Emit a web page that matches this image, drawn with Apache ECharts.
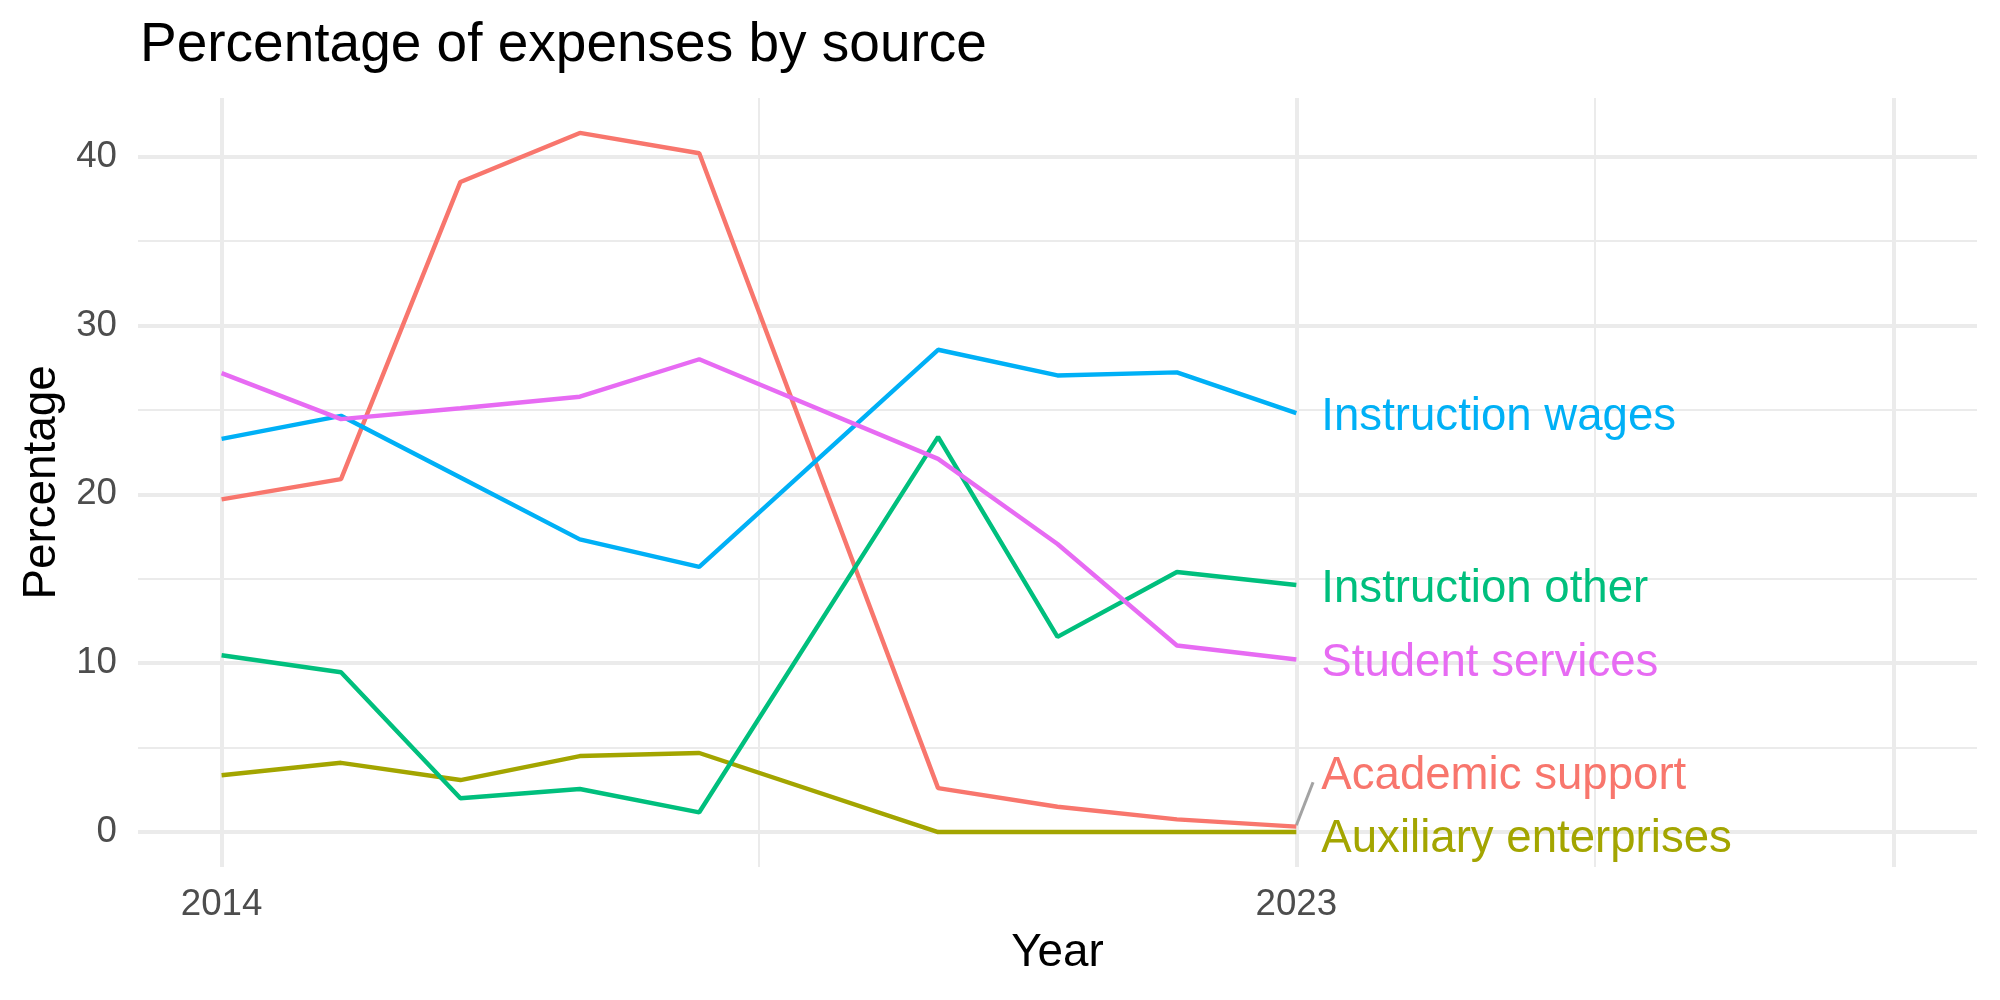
<!DOCTYPE html>
<html>
<head>
<meta charset="utf-8">
<script src="https://cdn.jsdelivr.net/npm/echarts@6/dist/echarts.min.js"></script>
<style>
  html, body { margin: 0; padding: 0; background: #fff; }
  #chart { width: 2000px; height: 1000px; }
</style>
</head>
<body>
<div id="chart"></div>
<script>
// values (no 2019 point in the source data)
const years = [2014, 2015, 2016, 2017, 2018, 2020, 2021, 2022, 2023];
const academicSupport = [19.7, 20.9, 38.5, 41.4, 40.2, 2.6, 1.5, 0.75, 0.32];
const auxiliaryEnterprises = [3.36, 4.1, 3.08, 4.5, 4.68, 0, 0, 0, 0];
const instructionOther = [10.47, 9.46, 2.0, 2.55, 1.17, 23.4, 11.56, 15.4, 14.63];
const instructionWages = [23.28, 24.65, 21.0, 17.33, 15.7, 28.56, 27.04, 27.22, 24.81];
const studentServices = [27.18, 24.45, 25.1, 25.78, 28.0, 22.1, 17.06, 11.05, 10.22];

const seriesNames = ["Academic support", "Auxiliary enterprises", "Instruction other", "Instruction wages", "Student services"];
const seriesValues = [academicSupport, auxiliaryEnterprises, instructionOther, instructionWages, studentServices];
const seriesColors = ["#F8766D", "#A3A500", "#00BF7D", "#00B0F6", "#E76BF3"];
// label nudges (px) where ggrepel moved the text away from the line end
const labelOffsets = [[0, -50], [0, 7], [0, 4], [0, 4], [0, 4]];

const xTicks = [2014, 2023];
const yTicks = [0, 10, 20, 30, 40];
const xMajorGrid = [2014, 2023, 2028];
const xMinorGrid = [2018.5, 2025.5];
const yMinorGrid = [5, 15, 25, 35];

const font = "'Liberation Sans', Arial, Helvetica, sans-serif";
const gridColor = "#EBEBEB";

const chart = echarts.init(document.getElementById("chart"));

const gridLines = [];
yTicks.forEach((v) => gridLines.push({ yAxis: v, lineStyle: { width: 4 } }));
yMinorGrid.forEach((v) => gridLines.push({ yAxis: v, lineStyle: { width: 2 } }));
xMajorGrid.forEach((v) => gridLines.push({ xAxis: v, lineStyle: { width: 4 } }));
xMinorGrid.forEach((v) => gridLines.push({ xAxis: v, lineStyle: { width: 2 } }));

const lineSeries = seriesNames.map((name, i) => ({
  name: name,
  type: "line",
  z: 3,
  data: years.map((y, j) => [y, seriesValues[i][j]]),
  showSymbol: false,
  symbol: "none",
  lineStyle: { color: seriesColors[i], width: 4.4 },
  itemStyle: { color: seriesColors[i] },
  endLabel: {
    show: true,
    formatter: name,
    color: seriesColors[i],
    fontSize: 45.6,
    fontFamily: font,
    distance: 25,
    offset: labelOffsets[i],
  },
}));

// the repel segment of "Academic support"
lineSeries[0].markLine = {
  silent: true,
  z: 2,
  symbol: "none",
  animation: false,
  label: { show: false },
  lineStyle: { color: "#A3A3A3", width: 3, type: "solid" },
  data: [[{ coord: [2023, 0.4] }, { coord: [2023.14, 2.95] }]],
};

const option = {
  animation: false,
  backgroundColor: "#fff",
  title: {
    text: "Percentage of expenses by source",
    left: 135,
    top: 13,
    textStyle: { fontSize: 55, fontWeight: "normal", color: "#000", fontFamily: font },
  },
  grid: { left: 138, right: 23, top: 98, bottom: 133, containLabel: false },
  xAxis: {
    type: "value",
    min: 2013.3,
    max: 2028.7,
    axisLine: { show: false },
    axisTick: { show: false },
    splitLine: { show: false },
    axisLabel: {
      customValues: xTicks,
      formatter: (v) => String(v),
      fontSize: 36.7,
      color: "#4D4D4D",
      fontFamily: font,
      margin: 19,
    },
    name: "Year",
    nameLocation: "middle",
    nameGap: 63,
    nameTextStyle: { fontSize: 45.8, color: "#000", fontFamily: font },
  },
  yAxis: {
    type: "value",
    min: -2.07,
    max: 43.47,
    axisLine: { show: false },
    axisTick: { show: false },
    splitLine: { show: false },
    axisLabel: {
      customValues: yTicks,
      fontSize: 36.7,
      color: "#4D4D4D",
      fontFamily: font,
      margin: 21,
      padding: [5, 0, 0, 0],
    },
    name: "Percentage",
    nameLocation: "middle",
    nameRotate: 90,
    nameGap: 73,
    nameTextStyle: { fontSize: 45.8, color: "#000", fontFamily: font },
  },
  series: [
    {
      name: "grid",
      type: "line",
      z: 0,
      data: [],
      markLine: {
        silent: true,
        z: 0,
        symbol: "none",
        animation: false,
        label: { show: false },
        lineStyle: { color: gridColor, type: "solid" },
        data: gridLines,
      },
    },
  ].concat(lineSeries),
};

chart.setOption(option);
</script>
</body>
</html>
